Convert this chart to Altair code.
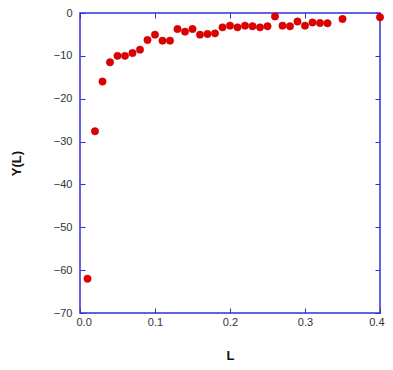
import altair as alt
import pandas as pd

L = [0.01, 0.02, 0.03, 0.04, 0.05, 0.06, 0.07, 0.08, 0.09, 0.10,
     0.11, 0.12, 0.13, 0.14, 0.15, 0.16, 0.17, 0.18, 0.19, 0.20,
     0.21, 0.22, 0.23, 0.24, 0.25, 0.26, 0.27, 0.28, 0.29, 0.30,
     0.31, 0.32, 0.33, 0.35, 0.40]
Y = [-62.0, -27.6, -16.0, -11.5, -10.0, -10.0, -9.35, -8.55, -6.3, -5.05,
     -6.45, -6.45, -3.75, -4.35, -3.75, -5.05, -4.9, -4.75, -3.35, -2.95,
     -3.35, -2.95, -3.1, -3.35, -3.1, -0.8, -2.95, -3.1, -2.0, -2.95,
     -2.2, -2.35, -2.4, -1.4, -1.0]

df = pd.DataFrame({"L": L, "Y": Y})

FONT = "Liberation Sans"
xdom = [0, 0.4]
ydom = [-70, 0]
xticks = [0, 0.1, 0.2, 0.3, 0.4]
yticks = [-70, -60, -50, -40, -30, -20, -10, 0]

base_x_axis = dict(values=xticks, tickSize=5, tickColor="#3333cc", domain=False,
                   grid=False, offset=-5)
base_y_axis = dict(values=yticks, tickSize=5, tickColor="#3333cc", domain=False,
                   grid=False, offset=-5, labelFlush=False)

points = alt.Chart(df).mark_circle(size=55, color="#dd0000", opacity=1,
                                   stroke="#cc0000", strokeWidth=0.5).encode(
    x=alt.X("L:Q", scale=alt.Scale(domain=xdom, nice=False, zero=False),
            axis=alt.Axis(orient="bottom", format=".1f", title="L",
                          labelFlush=True, labelFlushOffset=4,
                          labelPadding=3, titlePadding=22, **base_x_axis)),
    y=alt.Y("Y:Q", scale=alt.Scale(domain=ydom, nice=False, zero=False),
            axis=alt.Axis(orient="left", format="d", title="Y(L)",
                          labelPadding=8, titlePadding=30, **base_y_axis)),
)

ghost = alt.Chart(df).mark_circle(opacity=0).encode(
    x=alt.X("L:Q", scale=alt.Scale(domain=xdom, nice=False, zero=False),
            axis=alt.Axis(orient="top", labels=False, title=None, **base_x_axis)),
    y=alt.Y("Y:Q", scale=alt.Scale(domain=ydom, nice=False, zero=False),
            axis=alt.Axis(orient="right", labels=False, title=None, **base_y_axis)),
)

chart = alt.layer(points, ghost).resolve_scale(
    x="independent", y="independent"
).properties(
    width=300, height=300,
    autosize=alt.AutoSizeParams(type="none"),
    padding={"left": 72, "top": 5, "right": 5, "bottom": 49},
).configure_view(
    stroke="#3030d8", strokeWidth=1.5
).configure_axis(
    labelFont=FONT, labelFontSize=11, labelColor="#333333",
    titleFont=FONT, titleFontSize=13, titleFontWeight="bold", titleColor="#111111",
)

chart.save("out.html", embed_options={"renderer": "svg", "actions": False})
